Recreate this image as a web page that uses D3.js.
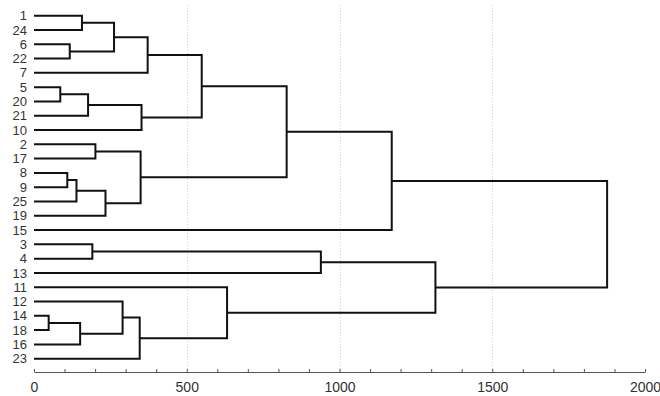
<!DOCTYPE html>
<html>
<head>
<meta charset="utf-8">
<script src="https://cdn.jsdelivr.net/npm/d3@7"></script>
<style>
  body { margin: 0; background: #fff; }
  svg { display: block; font-family: "Liberation Sans", Arial, sans-serif; }
</style>
</head>
<body>
<svg id="chart" width="660" height="396"></svg>
<script>
// leaf order, top to bottom
const leafLabels = ["1", "24", "6", "22", "7", "5", "20", "21", "10", "2", "17", "8", "9", "25", "19",
  "15", "3", "4", "13", "11", "12", "14", "18", "16", "23"];

// linkage: [left, right, height]; ids < 25 are leaves, >= 25 are earlier merges
const merges = [
  [0, 1, 157], [2, 3, 117], [25, 26, 262], [27, 4, 372],
  [5, 6, 86], [29, 7, 177], [30, 8, 352], [28, 31, 549],
  [9, 10, 201], [11, 12, 109], [34, 13, 139], [35, 14, 234], [33, 36, 349],
  [32, 37, 827], [38, 15, 1171],
  [16, 17, 191], [40, 18, 939],
  [21, 22, 48], [42, 23, 151], [20, 43, 290], [44, 24, 346], [19, 45, 632],
  [41, 46, 1314], [39, 47, 1876]
];

const xTicks = d3.range(0, 2001, 100);
const gridValues = [500, 1000, 1500];

const svg = d3.select("#chart");

const x = d3.scaleLinear().domain([0, 2000]).range([34, 645]);
const y = d3.scalePoint().domain(leafLabels).range([15.7, 358.7]);

// build the tree from the linkage table
const nodes = leafLabels.map(l => ({ name: l, height: 0 }));
merges.forEach(m => nodes.push({ height: m[2], children: [nodes[m[0]], nodes[m[1]]] }));
const root = d3.hierarchy(nodes[nodes.length - 1]);
root.eachAfter(n => {
  n.py = n.children ? d3.mean(n.children, c => c.py) : y(n.data.name);
});

// grid
svg.append("g")
  .selectAll("line")
  .data(gridValues)
  .join("line")
  .attr("x1", d => Math.round(x(d)) + 0.5)
  .attr("x2", d => Math.round(x(d)) + 0.5)
  .attr("y1", 5)
  .attr("y2", 372)
  .attr("stroke", "#d0d0d0")
  .attr("stroke-dasharray", "1,2");

// axis
const axis = svg.append("g")
  .attr("transform", "translate(0,372)")
  .call(d3.axisBottom(x)
    .tickValues(xTicks)
    .tickSizeInner(-3)
    .tickSizeOuter(0)
    .tickPadding(10)
    .tickFormat(d => d % 500 === 0 ? d : ""));
axis.select(".domain").attr("stroke", "#555");
axis.selectAll(".tick line").attr("stroke", "#555");
axis.selectAll("text").attr("fill", "#333").style("font-size", "14px");

// links
const links = svg.append("g")
  .attr("fill", "none")
  .attr("stroke", "#111")
  .attr("stroke-width", 2);

root.descendants().filter(n => n.children).forEach(n => {
  const [a, b] = n.children;
  const p = d3.path();
  p.moveTo(x(a.data.height), a.py);
  p.lineTo(x(n.data.height), a.py);
  p.lineTo(x(n.data.height), b.py);
  p.lineTo(x(b.data.height), b.py);
  links.append("path").attr("d", p.toString());
});

// leaf labels
svg.append("g")
  .selectAll("text")
  .data(leafLabels)
  .join("text")
  .attr("x", 27)
  .attr("y", d => y(d))
  .attr("dy", "0.35em")
  .attr("text-anchor", "end")
  .attr("fill", "#333")
  .style("font-size", "13px")
  .text(d => d);
</script>
</body>
</html>
